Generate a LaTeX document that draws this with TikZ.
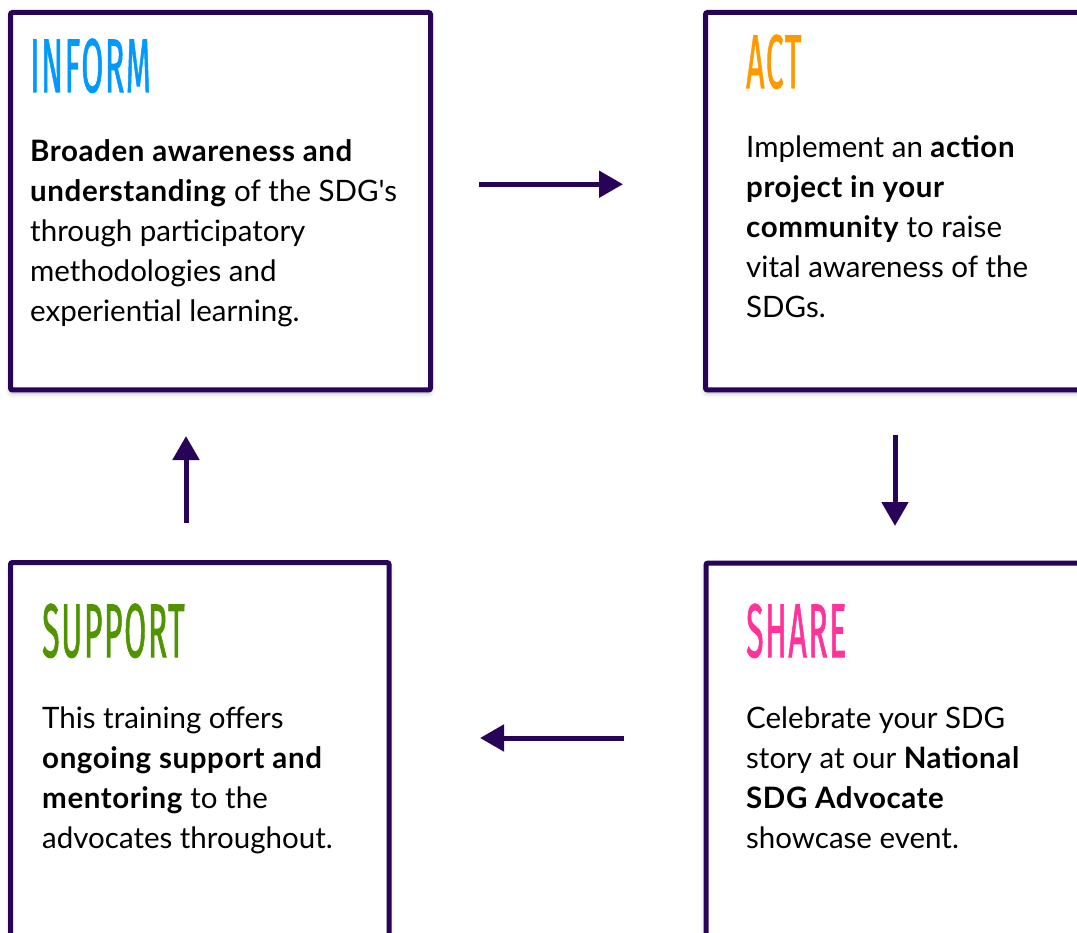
\documentclass[tikz,border=0pt]{standalone}
\usepackage{fontspec}
\setmainfont{Lato}[Ligatures=TeXOff, BoldFeatures={LetterSpace=2}]
\newfontfamily\titlefont{Fira Sans}[LetterSpace=5, FakeBold=1.5]
\usetikzlibrary{arrows.meta,shadows.blur}

\definecolor{sdgpurple}{RGB}{40,4,88}
\definecolor{sdgblue}{RGB}{0,153,255}
\definecolor{sdgorange}{RGB}{255,153,0}
\definecolor{sdggreen}{RGB}{80,148,0}
\definecolor{sdgpink}{RGB}{255,51,153}

\tikzset{
  card/.style={draw=sdgpurple, line width=5pt, fill=white, rounded corners=2pt,
    anchor=north west, inner sep=0pt, outer sep=0pt,
    blur shadow={shadow xshift=0pt, shadow yshift=-3pt, shadow blur radius=5pt, shadow opacity=30}},
  heading/.style={anchor=base west, inner sep=0pt, text=#1,
    font=\titlefont\fontsize{76}{76}\selectfont},
  % base of a multi-line node is its last line
  blurb/.style={anchor=base west, inner sep=0pt, align=left,
    font=\fontsize{29.5}{40}\selectfont},
  flow/.style={draw=sdgpurple, line width=5pt, -{Triangle[length=24pt,width=26pt]}}
}

\begin{document}
\begin{tikzpicture}[x=1pt,y=-1pt]
 \useasboundingbox (0,0) rectangle (1077,933);
 % the four cards
 \node[card, minimum width=420pt, minimum height=377.5pt] (inform) at (10.5,12.5) {};
 \node[card, minimum width=400pt, minimum height=377.5pt] (act) at (705.5,12.5) {};
 \node[card, minimum width=378.5pt, minimum height=400pt] (support) at (10.5,562.5) {};
 \node[card, minimum width=400pt, minimum height=400pt] (share) at (706,563) {};

 % headings
 \node[heading=sdgblue] (informtitle) at (30,92) {\scalebox{0.42}[1]{INFORM}};
 \node[heading=sdgorange] (acttitle) at (746,88) {\scalebox{0.42}[1]{ACT}};
 \node[heading=sdggreen] (supporttitle) at (42,657) {\scalebox{0.42}[1]{SUPPORT}};
 \node[heading=sdgpink] (sharetitle) at (746,657) {\scalebox{0.42}[1]{SHARE}};

 % text
 \node[blurb] (informtext) at (30,322) {\textbf{Broaden awareness and}\\
   \textbf{understanding} of the SDG's\\ through participatory\\
   methodologies and\\ experiential learning.};
 \node[blurb] (acttext) at (746,318) {Implement an \textbf{action}\\
   \textbf{project in your}\\ \textbf{community} to raise\\
   vital awareness of the\\ SDGs.};
 \node[blurb] (supporttext) at (42,848) {This training offers\\
   \textbf{ongoing support and}\\ \textbf{mentoring} to the\\
   advocates throughout.};
 \node[blurb] (sharetext) at (746,848) {Celebrate your SDG\\
   story at our \textbf{National}\\ \textbf{SDG Advocate}\\
   showcase event.};

 % the cycle
 \draw[flow, shorten <=48.5pt, shorten >=82.5pt] ([yshift=17pt]inform.east) -- ([yshift=17pt]act.west);
 \draw[flow, shorten <=45pt, shorten >=37pt] ([xshift=189.5pt]act.south west) -- ([xshift=189pt]share.north west);
 \draw[flow, shorten <=82pt, shorten >=91pt] ([yshift=25pt]share.west) -- ([yshift=24.5pt]support.east);
 \draw[flow, shorten <=39.5pt, shorten >=46pt] ([xshift=175.5pt]support.north west) -- ([xshift=175.5pt]inform.south west);
\end{tikzpicture}
\end{document}
